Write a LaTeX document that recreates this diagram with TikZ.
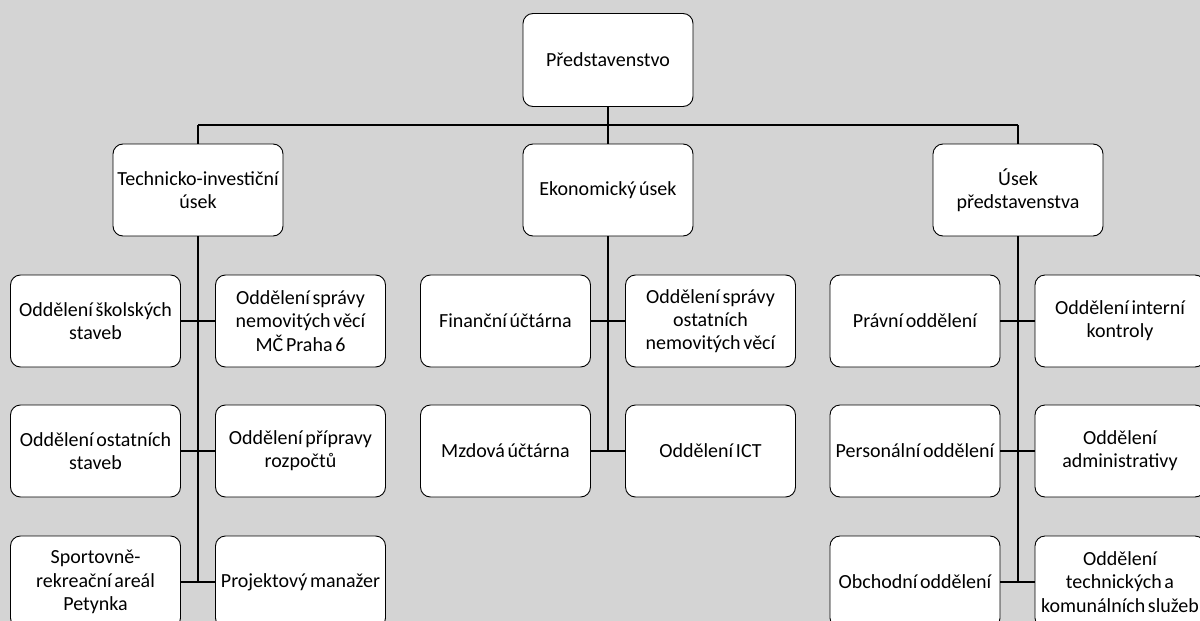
\documentclass[tikz,border=0pt]{standalone}
\usepackage{fontspec}
\setmainfont{Carlito}[WordSpace=0.6]

\definecolor{pozadi}{RGB}{212,212,212}

\tikzset{
  box/.style={draw, fill=white, rounded corners=10pt, line width=0.9pt,
    minimum width=170pt, minimum height=92pt,
    inner sep=0pt, align=center, font=\fontsize{20}{23.3}\selectfont},
  spoj/.style={line width=1.3pt}
}

\begin{document}
\begin{tikzpicture}[x=1pt, y=-1pt]
        \useasboundingbox (0,0) rectangle (1200,621);
        \clip (0,0) rectangle (1200,621);
        \fill[pozadi] (0,0) rectangle (1200,621);
        % vedeni
        \node[box, minimum height=93pt] (predst) at (608,60) {Představenstvo};
        \coordinate (sbernL) at (198,125);
        \coordinate (sbernR) at (1018,125);
        % useky
        \node[box] (tech) at (198,190) {Technicko-investiční\\úsek};
        \node[box] (ekon) at (608,190) {Ekonomický úsek};
        \node[box] (usek) at (1018,190) {Úsek\\představenstva};
        % technicko-investicni usek
        \node[box] (skol) at (95.5,321) {Oddělení školských\\staveb};
        \node[box] (sprava) at (300.5,321) {Oddělení správy\\nemovitých věcí\\MČ Praha 6};
        \node[box] (ostat) at (95.5,451) {Oddělení ostatních\\staveb};
        \node[box] (rozp) at (300.5,451) {Oddělení přípravy\\rozpočtů};
        \node[box] (petynka) at (95.5,582) {Sportovně-\\rekreační areál\\Petynka};
        \node[box] (projekt) at (300.5,582) {Projektový manažer};
        % ekonomicky usek
        \node[box] (financ) at (505.5,321) {Finanční účtárna};
        \node[box] (ostnem) at (710.5,321) {Oddělení správy\\ostatních\\nemovitých věcí};
        \node[box] (mzdova) at (505.5,451) {Mzdová účtárna};
        \node[box] (ict) at (710.5,451) {Oddělení ICT};
        % usek predstavenstva
        \node[box] (pravni) at (915,321) {Právní oddělení};
        \node[box] (interni) at (1120,321) {Oddělení interní\\kontroly};
        \node[box] (person) at (915,451) {Personální oddělení};
        \node[box] (admin) at (1120,451) {Oddělení\\administrativy};
        \node[box] (obchod) at (915,582) {Obchodní oddělení};
        \node[box] (komun) at (1120,582) {Oddělení\\technických a\\komunálních služeb};
        % spoje
        \draw[spoj] (sbernL) -- (sbernR);
        \draw[spoj] (predst) -- (predst |- sbernL);
        \draw[spoj] (tech) -- (tech |- sbernL);
        \draw[spoj] (ekon) -- (ekon |- sbernL);
        \draw[spoj] (usek) -- (usek |- sbernL);
        \draw[spoj] (tech.south) -- (tech.south |- petynka);
        \draw[spoj] (skol) -- (sprava);
        \draw[spoj] (ostat) -- (rozp);
        \draw[spoj] (petynka) -- (projekt);
        \draw[spoj] (ekon.south) -- (ekon.south |- mzdova);
        \draw[spoj] (financ) -- (ostnem);
        \draw[spoj] (mzdova) -- (ict);
        \draw[spoj] (usek.south) -- (usek.south |- obchod);
        \draw[spoj] (pravni) -- (interni);
        \draw[spoj] (person) -- (admin);
        \draw[spoj] (obchod) -- (komun);
    \end{tikzpicture}
\end{document}
